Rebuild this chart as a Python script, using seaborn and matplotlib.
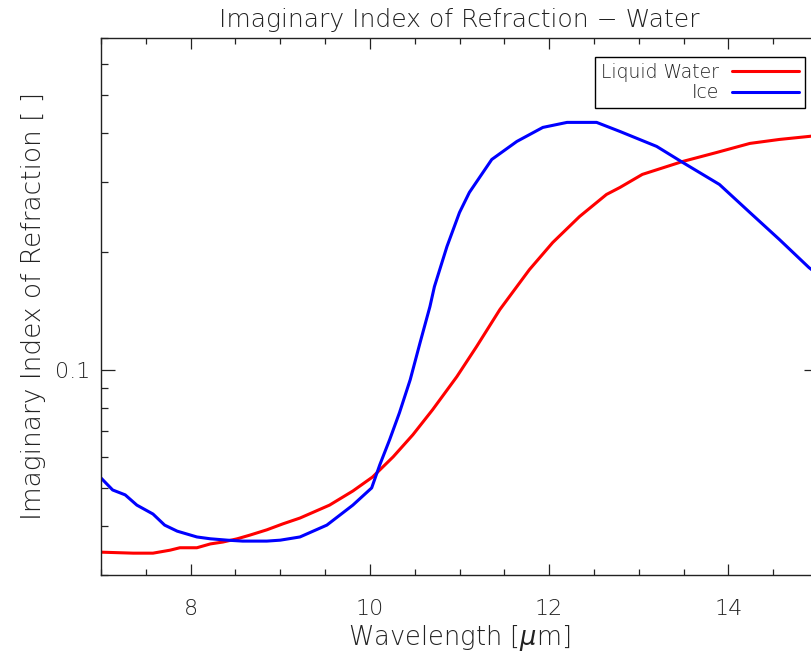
'''
Imaginary index of refraction of liquid water and ice in the thermal infrared,
drawn in the style of an IDL plot (log y axis, inward ticks on all sides).
'''

import matplotlib
matplotlib.use("Agg")
import matplotlib.pyplot as plt
from matplotlib.ticker import MultipleLocator, NullFormatter, FixedLocator, FixedFormatter
import seaborn as sns

#######################################################
### Data

water_wl = [7.00, 7.36, 7.58, 7.77, 7.88, 8.07, 8.22, 8.36, 8.52, 8.66,
            8.85, 9.03, 9.22, 9.55, 9.81, 10.03, 10.26, 10.48, 10.70, 10.97,
            11.19, 11.45, 11.59, 11.78, 12.04, 12.34, 12.64, 12.79, 13.04, 13.49,
            13.87, 14.24, 14.57, 14.90, 15.00]
water_k = [0.0343, 0.0341, 0.0341, 0.0347, 0.0352, 0.0352, 0.0360, 0.0364, 0.0371, 0.0379,
           0.0391, 0.0405, 0.0419, 0.0452, 0.0491, 0.0533, 0.0600, 0.0683, 0.0791, 0.0960,
           0.1145, 0.1423, 0.1572, 0.1799, 0.2109, 0.2457, 0.2796, 0.2913, 0.3145, 0.3393,
           0.3577, 0.3772, 0.3861, 0.3930, 0.3954]

ice_wl = [7.00, 7.13, 7.27, 7.40, 7.58, 7.71, 7.85, 8.07, 8.22, 8.41,
          8.58, 8.85, 9.00, 9.22, 9.52, 9.81, 10.02, 10.11, 10.22, 10.33,
          10.45, 10.56, 10.67, 10.72, 10.86, 11.00, 11.11, 11.36, 11.64, 11.93,
          12.20, 12.53, 12.79, 13.20, 13.49, 13.90, 14.24, 14.57, 14.90, 15.00]
ice_k = [0.0530, 0.0494, 0.0480, 0.0452, 0.0429, 0.0402, 0.0388, 0.0375, 0.0371, 0.0368,
         0.0366, 0.0366, 0.0368, 0.0375, 0.0402, 0.0452, 0.0500, 0.0572, 0.0663, 0.0777,
         0.0943, 0.1172, 0.1448, 0.1628, 0.2060, 0.2515, 0.2829, 0.3433, 0.3816, 0.4143,
         0.4267, 0.4267, 0.4046, 0.3706, 0.3374, 0.2965, 0.2515, 0.2146, 0.1820, 0.1748]

series_names = ["Liquid Water", "Ice"]
series_colors = ["#ff0000", "#0000ff"]

y_major_ticks = [0.1]
y_major_labels = ["0.1"]

TITLE = "Imaginary Index of Refraction \u2212 Water"
XLABEL = r"Wavelength [$\mu$m]"
YLABEL = "Imaginary Index of Refraction [ ]"

#######################################################
### Style

sns.set_theme(style="ticks")

plt.rcParams["font.family"] = ["DejaVu Sans"]
plt.rcParams["font.weight"] = "light"
plt.rcParams["mathtext.fontset"] = "dejavusans"

INK = "#222222"

#######################################################
### Plot

fig = plt.figure(figsize=(8.11, 6.58), dpi=100)

# axes extends a little past the right edge of the figure, as in the reference
ax = fig.add_axes([101 / 811, 83 / 658, 717 / 811, 537 / 658])

sns.lineplot(x=water_wl, y=water_k, ax=ax, color=series_colors[0],
             linewidth=2.2, label=series_names[0], sort=False)
sns.lineplot(x=ice_wl, y=ice_k, ax=ax, color=series_colors[1],
             linewidth=2.2, label=series_names[1], sort=False)

ax.set_yscale("log")
ax.set_xlim(7, 15)
ax.set_ylim(0.03, 0.7)

ax.xaxis.set_major_locator(MultipleLocator(2))
ax.xaxis.set_minor_locator(MultipleLocator(0.5))

ax.yaxis.set_major_locator(FixedLocator(y_major_ticks))
ax.yaxis.set_major_formatter(FixedFormatter(y_major_labels))
ax.yaxis.set_minor_formatter(NullFormatter())

ax.tick_params(axis="both", which="both", direction="in",
               top=True, right=True, colors=INK, width=0.9)
ax.tick_params(axis="x", which="major", length=8, pad=17, labelsize=16)
ax.tick_params(axis="x", which="minor", length=4.5)
ax.tick_params(axis="y", which="major", length=10, pad=8, labelsize=16)
ax.tick_params(axis="y", which="minor", length=5)

for spine in ax.spines.values():
    spine.set_color(INK)
    spine.set_linewidth(1.0)

ax.set_title(TITLE, fontsize=18, color=INK, pad=8, fontweight="light")
ax.set_xlabel(XLABEL, fontsize=18.5, color=INK, labelpad=3, fontweight="light")
ax.set_ylabel(YLABEL, fontsize=19, color=INK, labelpad=6, fontweight="light")

leg = ax.legend(
    loc="upper right",
    bbox_to_anchor=(805 / 811, 1 - 57 / 658),
    bbox_transform=fig.transFigure,
    borderaxespad=0,
    markerfirst=False,
    handlelength=3.6,
    handletextpad=0.7,
    labelspacing=0.1,
    borderpad=0.3,
    fontsize=13.5,
    fancybox=False,
    framealpha=1,
    edgecolor="black",
)
leg.get_frame().set_linewidth(1.0)
for text in leg.get_texts():
    text.set_color(INK)

fig.savefig("out.png", dpi=100)
